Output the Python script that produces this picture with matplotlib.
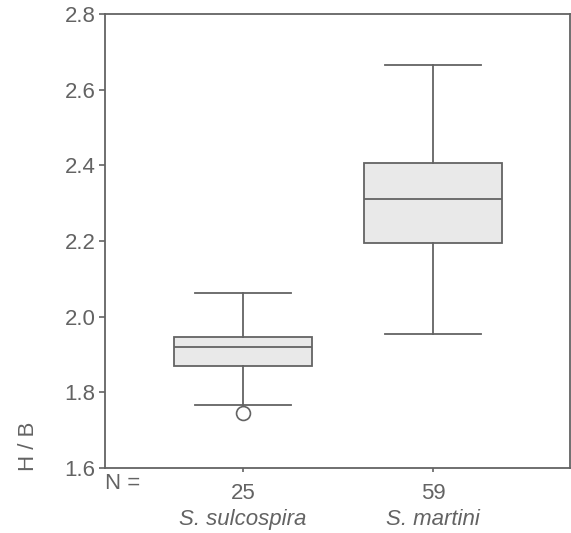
import matplotlib
matplotlib.use('Agg')
import matplotlib.pyplot as plt

# box statistics
species = ['S. sulcospira', 'S. martini']
counts = [25, 59]
whislo = [1.766, 1.954]
q1 = [1.869, 2.195]
med = [1.919, 2.311]
q3 = [1.947, 2.405]
whishi = [2.062, 2.664]
outliers = [[1.746], []]

plt.rcParams['font.family'] = ['Liberation Sans', 'DejaVu Sans']
grey = '#636363'
lw = 1.3

stats = []
for i in range(len(species)):
    stats.append({'whislo': whislo[i], 'q1': q1[i], 'med': med[i],
                  'q3': q3[i], 'whishi': whishi[i], 'fliers': outliers[i]})

fig = plt.figure(figsize=(5.71, 5.33), dpi=100)
ax = fig.add_axes([0.184, 0.122, 0.814, 0.852])

ax.bxp(stats, positions=[1, 2], widths=0.726, patch_artist=True,
       boxprops=dict(facecolor='#e9e9e9', edgecolor=grey, linewidth=lw),
       medianprops=dict(color=grey, linewidth=lw),
       whiskerprops=dict(color=grey, linewidth=lw),
       capprops=dict(color=grey, linewidth=lw),
       capwidths=0.505,
       flierprops=dict(marker='o', markersize=10, markerfacecolor='white',
                       markeredgecolor=grey, markeredgewidth=1.2))

ax.set_xlim(0.274, 2.72)
ax.set_ylim(1.6, 2.8)
ax.set_yticks([1.6, 1.8, 2.0, 2.2, 2.4, 2.6, 2.8])
ax.set_yticklabels(['1.6', '1.8', '2.0', '2.2', '2.4', '2.6', '2.8'])
ax.tick_params(axis='y', length=4, width=1.2, color=grey, labelcolor=grey,
               labelsize=16, pad=3)
ax.tick_params(axis='x', length=3, width=1.2, color=grey, labelcolor=grey,
               labelsize=16, pad=8)
ax.set_xticks([1, 2])
ax.set_xticklabels([str(c) for c in counts])
for s in ax.spines.values():
    s.set_color(grey)
    s.set_linewidth(lw)

ax.text(0.0, -0.012, 'N =', transform=ax.transAxes, ha='left', va='top',
        fontsize=16, color=grey)
for i, name in enumerate(species):
    ax.text(i + 1, -0.09, name, transform=ax.get_xaxis_transform(),
            ha='center', va='top', fontsize=16, color=grey, style='italic')

fig.text(0.05, 0.163, 'H / B', rotation=90, ha='center', va='center',
         fontsize=16, color=grey)

fig.savefig('out.png', dpi=100)
